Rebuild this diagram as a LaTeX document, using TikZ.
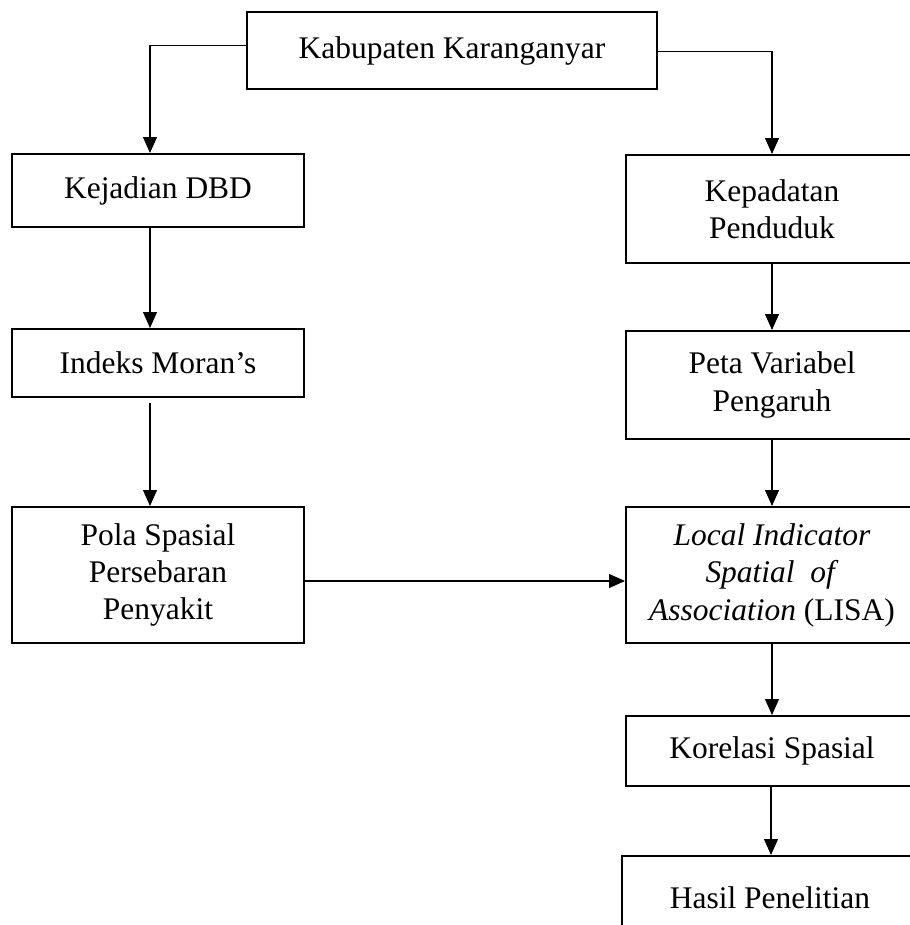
\documentclass[tikz,border=0pt]{standalone}
\usepackage{fontspec}
\setmainfont{Liberation Serif}
\usetikzlibrary{arrows.meta}
\begin{document}
\begin{tikzpicture}[x=0.75pt,y=-0.75pt,
  box/.style={draw, line width=1.5pt, rectangle, align=center, inner sep=0pt,
    font=\fontsize{23.6}{28.1}\selectfont},
  lbox/.style={box, minimum width=219pt},
  conn/.style={line width=0.8pt, -{Triangle[length=12pt,width=10.5pt]}}]
\clip (0,0) rectangle (910,925);
\fill[white] (0,0) rectangle (910,925);
% nodes
\node[box, minimum width=307.5pt, minimum height=57.75pt] (top) at (452,50.5) {Kabupaten Karanganyar};
\node[lbox, minimum height=54.75pt] (kej) at (158,190.5) {Kejadian DBD};
\node[lbox, minimum height=51pt] (ind) at (158,363) {Indeks Moran’s};
\node[lbox, minimum height=102pt] (pola) at (158,575) {Pola Spasial\\Persebaran\\Penyakit};
\node[lbox, minimum height=81pt] (kep) at (772,209) {Kepadatan\\Penduduk};
\node[lbox, minimum height=81pt] (peta) at (772,385) {Peta Variabel\\Pengaruh};
\node[lbox, minimum height=102pt] (lisa) at (772,575) {\textit{Local Indicator}\\\textit{Spatial\ \ of}\\\textit{Association} (LISA)};
\node[lbox, minimum height=52.5pt] (kor) at (772,751) {Korelasi Spasial};
\node[box, minimum width=222pt, minimum height=63pt] (has) at (770,898) {Hasil Penelitian};
% connectors
\draw[conn] ([yshift=4.1pt]top.west) -| ([xshift=-6pt]kej.north);
\draw[conn] ([yshift=-0.4pt]top.east) -| (kep.north);
\draw[conn] ([xshift=-6pt]kej.south) -- ([xshift=-6pt]ind.north);
\draw[conn] ([xshift=-6pt,yshift=-3.75pt]ind.south) -- ([xshift=-6pt]pola.north);
\draw[conn] (kep.south) -- (peta.north);
\draw[conn] (peta.south) -- (lisa.north);
\draw[conn] ([yshift=-4.5pt]pola.east) -- ([yshift=-4.5pt]lisa.west);
\draw[conn] (lisa.south) -- (kor.north);
\draw[conn] ([xshift=-0.75pt]kor.south) -- ([xshift=-0.75pt]kor.south |- has.north);
\end{tikzpicture}
\end{document}
